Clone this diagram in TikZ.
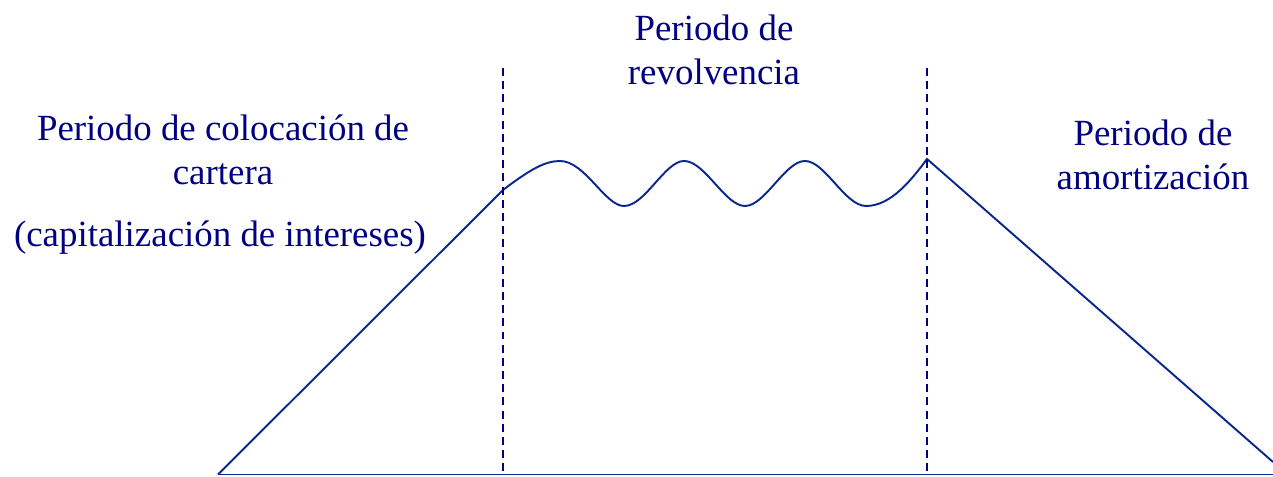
\documentclass[tikz,border=0pt]{standalone}
\usepackage{fontspec}
\setmainfont{Liberation Serif}
\usepackage{xcolor}
\usetikzlibrary{positioning}

\definecolor{navytext}{RGB}{0,0,128}
\definecolor{curveblue}{RGB}{10,40,140}

\begin{document}
\begin{tikzpicture}[
        label/.style={align=center, text=navytext, font=\fontsize{21}{25}\selectfont, inner sep=0pt},
        curve/.style={draw=curveblue, line width=1.1pt},
        limit/.style={draw=navytext, line width=1.1pt, dash pattern=on 4.5pt off 3pt}
    ]
        \useasboundingbox (0,0) rectangle (25.46,9.54);

        % Points of the curve
        \coordinate (start) at (4.36,0.05);
        \coordinate (finish) at (25.46,0.05);
        \coordinate (w0) at (10.06,5.74);
        \coordinate (p1) at (11.2,6.32);
        \coordinate (t1) at (12.48,5.42);
        \coordinate (p2) at (13.68,6.32);
        \coordinate (t2) at (14.9,5.42);
        \coordinate (p3) at (16.1,6.32);
        \coordinate (t3) at (17.32,5.42);
        \coordinate (w1) at (18.54,6.36);
        \coordinate (down) at (25.46,0.3);

        % Period limits
        \coordinate (lim1top) at (10.06,8.18);
        \coordinate (lim1bot) at (10.06,0.05);
        \coordinate (lim2top) at (18.54,8.18);
        \coordinate (lim2bot) at (18.54,0.05);

        % Labels
        \node[label] (revol) at (14.28,8.54) {Periodo de\\revolvencia};
        \node[label] (coloc) at (4.46,6.55) {Periodo de colocación de\\cartera};
        \node[label] (capit) at (4.4,4.78) {(capitalización de intereses)};
        \node[label] (amort) at (23.06,6.44) {Periodo de\\amortización};

        % Base line
        \draw[curve] (start) -- (finish);

        % Curve
        \draw[curve] (start) -- (w0)
            .. controls (10.6,6.15) and (10.9,6.32) .. (p1)
            .. controls (11.7,6.32) and (12.1,5.42) .. (t1)
            .. controls (12.9,5.42) and (13.3,6.32) .. (p2)
            .. controls (14.1,6.32) and (14.5,5.42) .. (t2)
            .. controls (15.3,5.42) and (15.7,6.32) .. (p3)
            .. controls (16.5,6.32) and (16.9,5.42) .. (t3)
            .. controls (17.8,5.42) and (18.2,5.9) .. (w1)
            -- (down);

        % Limits
        \draw[limit] (lim1top) -- (lim1bot);
        \draw[limit] (lim2top) -- (lim2bot);
    \end{tikzpicture}
\end{document}
